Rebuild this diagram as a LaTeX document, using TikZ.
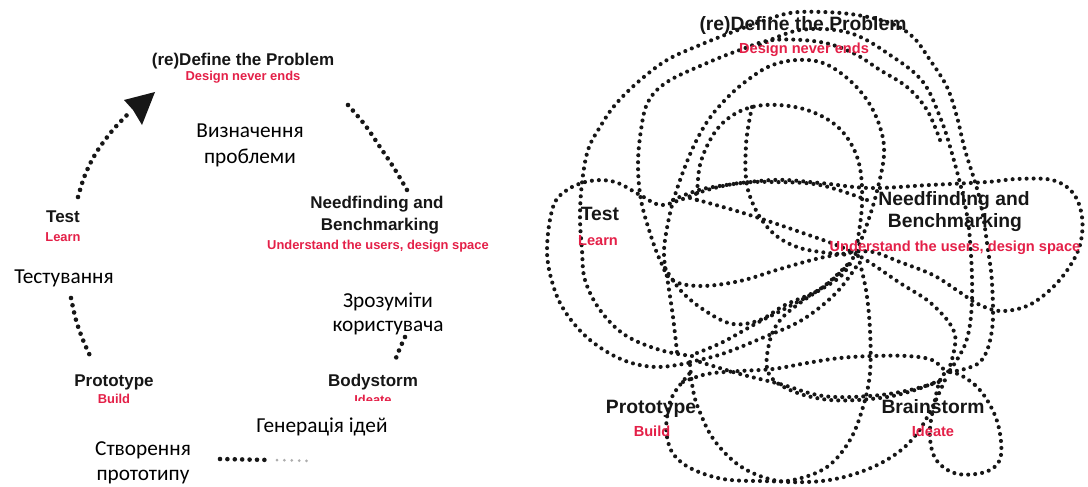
\documentclass[tikz,border=0pt]{standalone}
\usepackage{fontspec}
\setmainfont{Liberation Sans}
\newfontfamily\cyr{Carlito}
\definecolor{lab}{RGB}{228,32,72}
\definecolor{ink}{RGB}{22,22,22}
\begin{document}
\begin{tikzpicture}[x=1pt,y=-1pt,
  head/.style={font=\bfseries\fontsize{17}{20}\selectfont, text=ink, anchor=base, inner sep=0pt},
  sub/.style={font=\bfseries\fontsize{12.9}{15}\selectfont, text=lab, anchor=base, inner sep=0pt},
  headR/.style={font=\bfseries\fontsize{19.3}{22}\selectfont, text=ink, anchor=base, inner sep=0pt},
  subR/.style={font=\bfseries\fontsize{14.6}{17}\selectfont, text=lab, anchor=base, inner sep=0pt},
  ua/.style={font=\cyr\fontsize{21.3}{25}\selectfont, text=black, anchor=base, inner sep=0pt},
  dotL/.style={line width=4.6pt, line cap=round, dash pattern=on 0pt off 7.4pt, draw=ink},
  dotR/.style={line width=4.1pt, line cap=round, dash pattern=on 0pt off 7pt, draw=ink},
  sm/.style={smooth, tension=0.6}]
\fill[white] (0,0) rectangle (1088,487);
\useasboundingbox (0,0) rectangle (1088,487);

% ---------------- left cycle ----------------
\draw[dotL] plot[sm] coordinates {(78,197)(85,175)(96,153)(112,131)(128,114)};
\fill[ink] (155,92) -- (124,100) -- (133,110) -- (142,125) -- cycle;
\draw[dotL] plot[sm] coordinates {(348,105)(365,125)(380,147)(394,168)(407,190)};
\draw[dotL] plot[sm] coordinates {(71,298)(76,320)(83,340)(92,360)};
\draw[dotL] plot[sm] coordinates {(405,337)(400,348)(396,358)};
\draw[dotL] (220,459) -- (270,460);
\draw[dotL, draw=ink!35, line width=3pt] (277,460) -- (310,461);

\node[head] (defL) at (243,66) {(re)Define the Problem};
\node[sub] (defLs) at (243,81) {Design never ends};
\node[ua] (ua1a) at (250,137) {Визначення};
\node[ua] (ua1b) at (250,164) {проблеми};
\node[head] (testL) at (63,222) {Test};
\node[sub] (testLs) at (63,241) {Learn};
\node[head] (needL1) at (377,208) {Needfinding and};
\node[head] (needL2) at (380,230) {Benchmarking};
\node[sub] (needLs) at (378,249) {Understand the users, design space};
\node[ua] (ua2) at (64,283) {Тестування};
\node[ua] (ua3a) at (388,307) {Зрозуміти};
\node[ua] (ua3b) at (388,331) {користувача};
\node[head] (protoL) at (114,386) {Prototype};
\node[sub] (protoLs) at (114,403) {Build};
\node[head] (bodyL) at (373,386) {Bodystorm};
\begin{scope}
\clip (330,390) rectangle (420,400.5);
\node[sub] (bodyLs) at (373,404) {Ideate};
\end{scope}
\node[ua] (ua4) at (322,432) {Генерація ідей};
\node[ua] (ua5a) at (143,455) {Створення};
\node[ua] (ua5b) at (143,480) {прототипу};

% ---------------- right tangle ----------------
\draw[dotR] plot[sm] coordinates {(950,372)(980,362)(992,330)(992,283)(988,250)(980,200)(965,150)(957,117)(947,87)(930,60)(913,37)(890,23)(857,15)(823,12)(790,13)(760,22)(730,33)(700,45)(667,60)(638,82)(615,105)(600,127)(588,150)(582,183)(580,217)(582,250)(585,280)(600,310)(625,335)(660,350)(692,356)};
\draw[dotR] plot[sm] coordinates {(867,200)(820,185)(773,182)(740,183)(707,190)(680,200)(660,205)(640,195)(615,182)(590,181)(567,190)(553,207)(547,250)(553,285)(566,313)(590,340)(623,360)(657,367)(693,362)};
\draw[dotR] plot[sm] coordinates {(940,140)(927,110)(907,87)(880,70)(853,53)(820,42)(773,40)(740,50)(707,63)(667,82)(648,102)(641,130)(638,165)(641,200)(650,233)(660,260)(672,280)(700,286)(740,281)(780,269)(820,258)(855,252)};
\draw[dotR] plot[sm] coordinates {(677,352)(673,317)(668,283)(664,255)(667,228)(675,195)(691,152)(707,122)(725,100)(745,82)(770,66)(797,60)(823,63)(847,78)(867,100)(880,127)(884,155)(876,195)(865,230)(856,252)};
\draw[dotR] plot[sm] coordinates {(697,200)(700,165)(713,135)(730,117)(752,107)(778,105)(807,110)(833,123)(850,142)(860,168)(862,205)(857,245)};
\draw[dotR] plot[sm] coordinates {(752,107)(746,145)(748,190)(768,228)(800,248)(850,255)};
\draw[dotR] plot[sm] coordinates {(853,258)(840,277)(807,298)(782,318)(770,340)(768,372)(790,390)(830,400)(880,398)(915,390)(945,378)};
\draw[dotR] plot[sm] coordinates {(700,362)(740,374)(780,384)(823,396)(870,396)(910,390)(945,380)};
\draw[dotR] plot[sm] coordinates {(673,200)(690,193)(713,187)(773,180)(820,183)(870,188)(930,185)(987,182)(1017,179)(1052,180)(1073,193)(1082,217)(1080,245)(1068,269)(1050,290)(1027,306)(1000,311)(978,304)(958,291)(933,275)(900,262)(873,252)(850,252)};
\draw[dotR] plot[sm] coordinates {(690,198)(740,212)(800,232)(852,252)(900,283)(933,305)(955,335)(948,372)};
\draw[dotR] plot[sm] coordinates {(665,268)(682,292)(707,312)(733,324)(760,320)(785,305)(822,288)(853,260)};
\draw[dotR] plot[sm] coordinates {(697,353)(723,342)(757,323)(790,306)(823,287)(850,262)};
\draw[dotR] plot[sm] coordinates {(690,362)(722,354)(762,338)(802,320)(836,293)(858,264)};
\draw[dotR] plot[sm] coordinates {(858,256)(866,290)(870,330)(870,373)(863,407)(850,440)(827,467)(793,480)(760,481)(723,479)(692,469)(674,455)(667,437)(667,417)(673,395)(690,373)};
\draw[dotR] plot[sm] coordinates {(690,365)(693,390)(699,410)(714,440)(740,466)(773,480)(807,482)(840,478)(873,467)(900,451)(918,432)(932,408)(945,380)};
\draw[dotR] plot[sm] coordinates {(683,382)(707,374)(740,371)(773,369)(807,363)(840,358)(873,356)(907,356)(932,360)(946,372)};
\draw[dotR] plot[smooth cycle, tension=0.6] coordinates {(945,373)(975,385)(996,418)(1001,455)(988,471)(958,474)(937,461)(930,438)(933,410)};
\draw[dotR] plot[sm] coordinates {(760,45)(800,30)(850,33)(893,57)(923,82)(940,117)(951,150)(964,200)(970,240)(972,300)(966,342)(948,373)};

\node[headR] (defR) at (803,31) {(re)Define the Problem};
\node[subR] (defRs) at (804,54) {Design never ends};
\node[headR] (testR) at (600,220) {Test};
\node[subR] (testRs) at (598,245) {Learn};
\node[headR] (needR1) at (954,205) {Needfinding and};
\node[headR] (needR2) at (955,227) {Benchmarking};
\node[subR] (needRs) at (955,251) {Understand the users, design space};
\node[headR] (protoR) at (651,413) {Prototype};
\node[subR] (protoRs) at (652,436) {Build};
\node[headR] (brainR) at (933,413) {Brainstorm};
\node[subR] (brainRs) at (933,436) {Ideate};
\end{tikzpicture}
\end{document}
